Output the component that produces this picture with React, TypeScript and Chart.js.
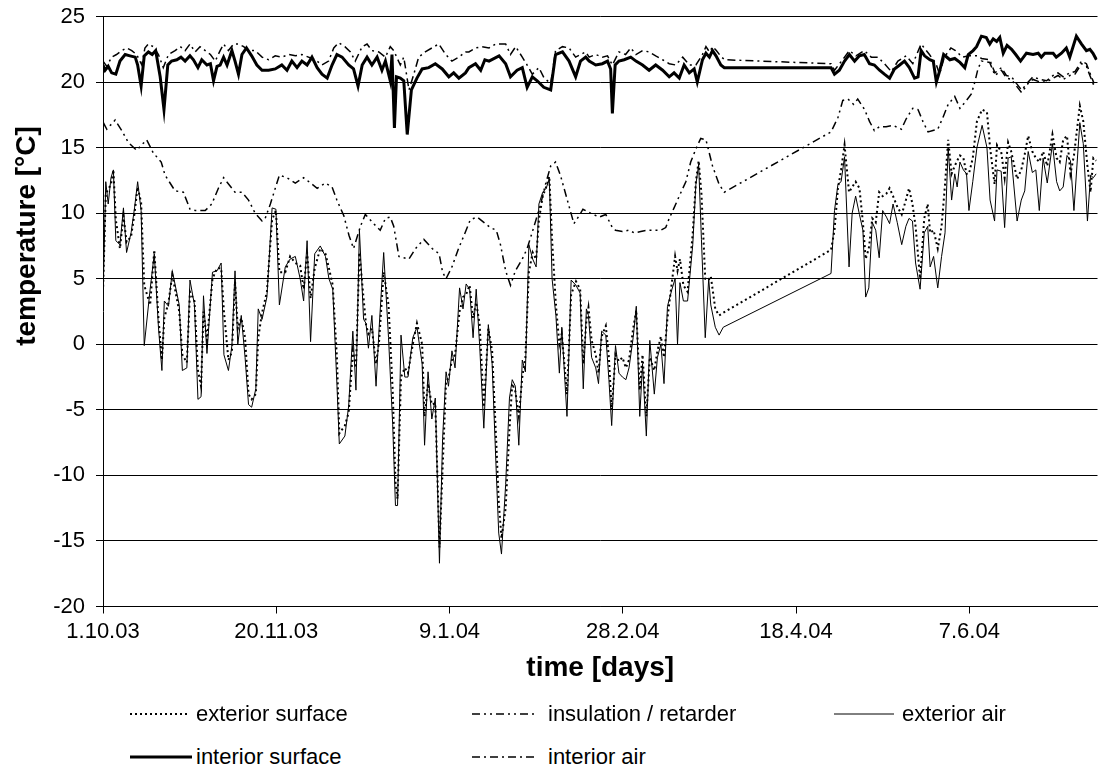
import React, { useEffect, useRef } from 'react';
import { Chart, registerables } from 'chart.js';

Chart.register(...registerables);

const FONT = "Arial, 'Liberation Sans', Helvetica, sans-serif";

// x tick labels (every 50 days from 1.10.03)
const xTickLabels = ['1.10.03', '20.11.03', '9.1.04', '28.2.04', '18.4.04', '7.6.04'];
const xTitle = 'time [days]';
const yTitle = 'temperature [°C]';

// exterior air / exterior surface (days since 1.10.03)
const exteriorDays = [
  0, 0.8, 1.5, 2.3, 3.0, 3.7, 4.9, 5.9, 6.8, 8.1,
  9.1, 10.0, 11.0, 11.9, 13.6, 14.8, 16.0, 17.0, 17.7, 18.9,
  20.0, 22.0, 22.9, 24.2, 25.1, 26.4, 27.4, 28.3, 29.0, 30.0,
  31.6, 32.9, 34.1, 34.9, 36.2, 37.2, 38.1, 38.9, 39.9, 41.0,
  42.0, 42.9, 44.1, 44.8, 45.9, 47.3, 48.8, 49.9, 50.9, 52.6,
  54.0, 55.5, 56.9, 57.9, 58.9, 59.9, 61.1, 62.7, 64.2, 65.2,
  66.3, 67.5, 68.2, 69.8, 70.9, 72.1, 73.0, 74.0, 75.2, 75.9,
  76.6, 77.6, 78.8, 79.7, 81.0, 82.4, 83.6, 84.4, 85.0, 86.0,
  87.1, 88.0, 89.4, 90.6, 92.1, 92.8, 93.8, 94.9, 95.9, 97.1,
  98.0, 99.0, 99.7, 100.7, 101.6, 102.9, 103.9, 104.8, 105.8, 106.8,
  107.7, 108.7, 109.9, 111.2, 112.3, 113.5, 114.2, 115.0, 116.2, 117.3,
  118.1, 119.0, 120.0, 121.0, 121.9, 122.9, 124.0, 125.0, 125.8, 126.9,
  127.9, 128.8, 129.6, 130.7, 131.7, 132.4, 133.9, 135.1, 136.5, 137.7,
  138.6, 139.5, 140.1, 141.0, 142.2, 143.0, 143.9, 145.1, 146.0, 146.8,
  147.9, 148.9, 149.9, 150.9, 151.8, 153.0, 153.9, 154.9, 155.7, 156.8,
  157.8, 159.1, 160.0, 161.0, 161.9, 162.9, 164.2, 165.1, 165.8, 166.5,
  167.5, 168.7, 170.2, 171.1, 171.9, 172.7, 173.8, 174.8, 175.4, 176.7,
  177.8, 179.0, 210.1, 211.1, 212.1, 213.0, 214.0, 215.3, 216.2, 217.2,
  218.3, 219.3, 220.1, 221.0, 222.0, 223.0, 224.0, 225.0, 226.1, 227.0,
  228.0, 229.2, 230.5, 231.7, 232.6, 233.6, 234.5, 235.8, 237.0, 238.0,
  238.7, 239.7, 240.9, 242.0, 243.0, 243.9, 244.9, 245.8, 246.5, 247.3,
  248.3, 249.2, 249.9, 251.0, 252.2, 253.7, 255.1, 256.0, 257.3, 258.0,
  259.2, 260.2, 261.2, 262.1, 263.8, 265.0, 266.0, 267.0, 268.2, 269.2,
  270.2, 271.3, 272.5, 274.0, 275.2, 276.1, 277.1, 278.2, 279.2, 280.2,
  281.9, 282.9, 284.1, 285.0, 285.8, 286.6,
];

const exteriorAir = [
  3.5, 12.4, 10.7, 12.7, 13.3, 7.9, 7.6, 10.4, 7.0, 8.5,
  10.4, 12.4, 10.2, -0.1, 4.2, 6.9, 1.3, -2.0, 3.3, 2.9,
  5.6, 3.0, -2.0, -1.8, 4.9, 3.0, -4.2, -4.0, 3.7, -0.7,
  5.5, 5.6, 6.2, -0.8, -2.0, -0.1, 5.6, 0.0, 2.2, -1.0,
  -4.6, -4.8, -3.4, 2.7, 1.9, 3.6, 10.4, 10.3, 3.0, 5.9,
  6.5, 6.7, 5.0, 3.3, 7.9, 0.2, 6.9, 7.5, 6.7, 5.0,
  4.2, -3.0, -7.6, -7.0, -4.7, 1.0, -3.5, 8.7, 1.9, 1.6,
  -0.3, 2.2, -3.2, 1.3, 7.0, 0.5, -6.1, -12.3, -12.3, 0.7,
  -2.5, -2.5, 0.5, 1.3, -1.5, -7.7, -2.1, -5.7, -4.1, -16.7,
  -7.2, -2.1, -3.2, -0.5, -1.8, 4.3, 2.7, 4.6, 4.2, 0.5,
  4.2, -0.1, -6.4, 1.5, -1.5, -9.8, -14.4, -16.0, -10.7, -4.1,
  -2.7, -3.2, -7.7, -1.2, -2.1, 7.6, 6.5, 5.9, 10.7, 11.6,
  11.9, 12.6, 5.0, 2.2, -2.2, 1.3, -5.5, 4.9, 4.5, 3.9,
  -3.4, 2.7, 2.2, -1.0, -1.8, -3.0, 1.0, 0.7, -2.7, -6.2,
  -0.1, -2.2, -2.5, -2.7, -1.8, 0.5, 2.9, -5.5, -1.5, -7.0,
  0.3, -3.8, -1.0, 0.0, -3.0, 2.9, 4.2, 5.0, 0.0, 4.7,
  3.3, 3.3, 7.6, 12.2, 13.7, 8.0, 0.5, 5.0, 3.0, 1.3,
  0.7, 1.3, 5.4, 10.2, 12.2, 12.4, 14.3, 5.9, 10.0, 11.3,
  9.9, 8.7, 3.6, 4.3, 9.3, 8.7, 6.6, 10.2, 9.7, 9.2,
  10.7, 9.3, 7.6, 9.0, 9.6, 9.4, 6.2, 4.2, 8.5, 9.0,
  5.9, 6.7, 4.3, 6.7, 8.5, 15.0, 11.0, 13.0, 12.0, 13.9,
  13.3, 13.0, 10.2, 12.4, 15.0, 16.7, 15.0, 11.0, 9.4, 13.3,
  13.2, 8.9, 14.2, 14.3, 9.4, 11.0, 11.7, 14.7, 13.1, 13.3,
  10.2, 14.2, 12.3, 15.3, 12.4, 11.7, 12.0, 14.4, 14.0, 10.2,
  16.9, 15.3, 9.4, 12.9, 12.7, 13.0,
];

const exteriorSurface = [
  4.0, 11.5, 11.8, 12.2, 13.3, 9.5, 7.3, 9.8, 7.8, 8.2,
  10.0, 12.0, 10.8, 4.5, 3.0, 7.2, 2.0, -1.2, 2.0, 3.2,
  5.3, 2.5, -0.8, -1.4, 4.0, 3.3, -2.0, -3.2, 2.5, 0.3,
  5.0, 5.8, 5.8, 2.5, -1.2, -0.6, 4.8, 1.2, 2.0, 0.5,
  -3.8, -4.2, -3.8, 0.5, 2.4, 4.0, 9.5, 10.2, 5.5, 5.5,
  6.7, 6.2, 6.0, 4.2, 7.0, 3.5, 5.8, 7.3, 6.9, 5.8,
  4.5, -1.0, -6.8, -6.2, -5.2, -0.5, -1.8, 7.0, 3.5, 1.5,
  0.8, 1.2, -1.5, 0.3, 5.5, 3.0, -3.5, -10.5, -11.8, -2.5,
  -1.8, -2.2, 0.0, 1.6, 0.0, -5.5, -3.0, -4.6, -4.5, -15.5,
  -9.5, -2.8, -2.6, -1.2, -0.8, 2.5, 3.6, 3.8, 4.5, 2.0,
  3.2, 1.5, -4.8, 1.2, -0.5, -7.5, -12.0, -14.8, -12.5, -6.5,
  -3.0, -3.6, -5.5, -2.5, -1.0, 5.5, 7.0, 6.5, 9.5, 11.3,
  12.0, 12.8, 8.0, 3.0, 0.0, 0.8, -3.8, 3.8, 4.8, 4.2,
  -1.5, 1.8, 2.8, 0.3, -0.8, -2.2, 0.6, 1.4, -1.0, -5.0,
  -0.8, -1.3, -1.0, -1.8, -1.2, 1.2, 2.6, -3.5, -0.8, -5.5,
  -1.0, -2.0, -0.5, 0.6, -1.0, 2.0, 4.8, 6.7, 5.6, 6.5,
  4.5, 4.0, 8.5, 12.4, 14.0, 11.5, 5.0, 4.9, 5.2, 2.7,
  2.2, 2.4, 7.2, 8.7, 11.9, 13.3, 15.2, 11.6, 12.0, 12.4,
  11.9, 9.3, 6.5, 7.3, 9.6, 9.3, 11.6, 11.3, 11.5, 11.9,
  11.3, 10.5, 9.9, 11.0, 11.9, 10.7, 9.0, 5.0, 9.6, 10.7,
  8.5, 8.7, 7.3, 9.0, 12.2, 15.6, 13.0, 13.6, 14.0, 14.4,
  14.2, 13.0, 13.0, 14.2, 17.0, 17.9, 17.7, 15.0, 12.2, 15.2,
  14.7, 12.7, 15.4, 14.7, 12.6, 13.3, 14.5, 15.9, 14.7, 14.2,
  13.9, 14.7, 13.6, 16.0, 14.2, 13.9, 15.6, 15.9, 13.0, 14.4,
  18.2, 17.0, 13.6, 11.6, 14.2, 14.0,
];

// insulation / retarder
const insulationDays = [
  0.1, 1.1, 3.5, 5.4, 7.3, 9.7, 12.6, 14.5, 16.8, 17.9,
  20.8, 23.2, 25.1, 26.6, 29.5, 31.4, 33.3, 34.8, 38.1, 40.1,
  42.0, 43.9, 45.9, 46.8, 48.3, 50.9, 53.1, 55.5, 57.9, 59.9,
  61.8, 64.2, 66.1, 67.5, 69.5, 71.0, 72.3, 74.3, 75.7, 78.1,
  80.0, 81.5, 82.9, 83.9, 85.4, 86.8, 88.3, 90.2, 92.6, 95.0,
  97.0, 98.0, 99.0, 100.7, 102.6, 104.5, 106.0, 108.0, 109.9, 111.8,
  113.5, 114.7, 116.2, 117.6, 119.0, 121.0, 122.4, 124.4, 126.3, 127.7,
  129.2, 130.6, 132.0, 134.0, 135.9, 137.4, 138.5, 140.7, 143.2, 145.1,
  147.0, 147.9, 149.9, 151.8, 153.3, 155.2, 157.1, 159.1, 161.0, 162.4,
  163.4, 164.8, 166.3, 168.2, 169.6, 171.1, 172.5, 174.0, 175.9, 177.8,
  179.3, 210.1, 212.1, 213.5, 215.0, 216.6, 217.8, 219.8, 221.2, 222.6,
  224.1, 226.0, 228.0, 230.4, 231.8, 233.7, 235.2, 236.6, 238.1, 239.5,
  240.9, 242.4, 243.9, 245.8, 247.3, 249.2, 250.6, 251.6, 252.5, 253.5,
  255.9, 257.4, 259.3, 260.7, 262.2, 263.6, 265.1, 267.0, 268.4, 270.4,
  272.3, 274.2, 275.6, 277.1, 279.0, 280.5, 282.4, 283.8, 284.8, 286.0,
];

const insulation = [
  16.9, 16.4, 17.1, 16.3, 15.4, 14.8, 15.6, 14.6, 13.9, 12.9,
  11.7, 11.6, 10.3, 10.2, 10.2, 10.7, 11.9, 12.7, 11.6, 11.6,
  11.0, 10.0, 9.4, 9.6, 10.7, 12.9, 12.7, 12.3, 12.7, 12.3,
  11.9, 12.3, 12.0, 11.0, 9.8, 8.3, 7.3, 9.0, 9.9, 9.2,
  8.7, 9.6, 9.7, 9.0, 6.7, 6.6, 6.5, 7.3, 8.0, 7.3,
  6.9, 5.5, 5.0, 5.9, 7.3, 8.5, 9.5, 9.7, 9.3, 8.9,
  8.7, 7.6, 5.6, 4.5, 5.6, 6.5, 7.3, 9.0, 10.7, 12.2,
  13.6, 13.9, 12.9, 11.0, 9.2, 9.8, 10.3, 10.0, 9.7, 9.9,
  8.9, 8.7, 8.6, 8.7, 8.5, 8.6, 8.7, 8.7, 8.7, 8.9,
  9.6, 10.4, 11.3, 12.4, 13.9, 14.9, 15.7, 15.6, 13.6, 12.2,
  11.6, 16.2, 17.3, 18.6, 18.7, 18.3, 18.7, 17.9, 17.0, 16.3,
  16.6, 16.6, 16.7, 16.4, 17.2, 18.0, 17.9, 17.0, 16.2, 16.3,
  16.4, 17.3, 18.3, 18.9, 18.0, 18.6, 19.1, 20.0, 21.0, 21.6,
  21.5, 20.5, 20.9, 20.3, 20.2, 19.7, 19.2, 19.9, 20.2, 20.0,
  20.0, 20.3, 20.5, 20.2, 20.5, 20.6, 21.4, 21.2, 20.5, 19.7,
];

// interior surface
const interiorSurfaceDays = [
  0, 0.6, 1.5, 2.5, 3.7, 4.9, 6.4, 7.8, 9.3, 10.0,
  11.0, 11.9, 13.1, 14.2, 15.2, 16.5, 17.6, 18.7, 19.8, 21.3,
  22.5, 23.7, 25.1, 26.1, 27.4, 28.5, 30.0, 31.0, 31.9, 32.9,
  33.8, 34.8, 35.8, 37.2, 38.1, 39.1, 40.1, 41.4, 42.9, 44.4,
  45.9, 47.8, 49.7, 51.6, 53.1, 54.5, 56.0, 57.4, 58.9, 60.3,
  61.8, 63.2, 64.7, 66.1, 67.5, 69.0, 70.9, 72.3, 73.6, 74.8,
  76.2, 77.6, 79.1, 80.5, 81.5, 82.9, 83.4, 84.1, 84.7, 85.8,
  86.8, 87.8, 89.0, 90.6, 92.1, 94.0, 95.9, 97.9, 99.8, 101.2,
  102.7, 104.6, 105.6, 107.5, 109.0, 110.2, 111.4, 114.3, 116.2, 117.6,
  119.5, 121.0, 122.4, 123.9, 125.3, 127.2, 129.2, 130.6, 132.6, 134.5,
  136.4, 137.8, 139.3, 140.3, 142.2, 144.1, 145.6, 146.5, 147.0, 147.8,
  148.9, 150.4, 152.3, 153.8, 155.7, 157.6, 159.5, 161.5, 163.4, 164.8,
  166.3, 167.7, 169.2, 170.6, 171.5, 173.0, 174.0, 175.0, 175.9, 176.9,
  178.3, 179.3, 210.1, 211.1, 212.5, 214.0, 215.4, 216.9, 218.3, 219.7,
  221.2, 222.6, 224.1, 225.5, 227.0, 228.4, 229.9, 231.3, 232.7, 234.2,
  235.2, 236.1, 237.1, 238.6, 239.6, 240.5, 241.5, 242.6, 244.4, 245.8,
  247.3, 248.7, 249.7, 251.1, 252.1, 253.5, 254.9, 255.9, 256.9, 257.9,
  258.8, 259.8, 260.9, 262.2, 263.4, 264.8, 266.5, 268.4, 269.9, 270.8,
  271.8, 274.2, 275.1, 276.6, 278.0, 279.0, 280.9, 282.4, 283.8, 284.8,
  285.7, 286.7,
];

const interiorSurface = [
  21.3, 20.9, 21.2, 20.7, 20.6, 21.6, 22.1, 22.0, 21.9, 21.3,
  19.7, 22.0, 22.3, 22.1, 22.4, 20.4, 17.9, 21.3, 21.6, 21.7,
  21.9, 21.6, 22.0, 21.7, 21.1, 21.7, 21.3, 21.4, 20.1, 21.2,
  21.3, 21.9, 21.3, 22.4, 21.6, 20.6, 22.1, 22.6, 22.0, 21.3,
  20.9, 20.9, 21.0, 21.3, 20.9, 21.6, 21.1, 21.6, 21.3, 21.9,
  21.1, 20.6, 20.3, 21.3, 22.1, 21.9, 21.3, 21.0, 19.7, 21.3,
  21.9, 21.3, 21.9, 20.9, 21.6, 20.1, 22.1, 16.5, 20.4, 20.3,
  20.1, 16.0, 19.4, 20.3, 21.0, 21.1, 21.4, 21.0, 20.4, 20.7,
  20.3, 20.7, 21.1, 21.4, 20.9, 21.7, 21.6, 22.0, 21.4, 20.4,
  20.9, 21.1, 19.6, 20.4, 20.1, 19.6, 19.4, 22.1, 22.3, 21.6,
  20.4, 21.6, 21.9, 21.6, 21.3, 21.4, 21.6, 21.0, 17.6, 21.3,
  21.6, 21.7, 21.9, 21.6, 21.3, 20.9, 21.3, 20.9, 20.4, 20.7,
  20.3, 21.3, 20.7, 21.0, 20.0, 21.7, 22.2, 21.9, 22.4, 22.0,
  21.3, 21.1, 21.1, 20.6, 20.9, 21.6, 22.1, 21.6, 22.0, 22.1,
  21.4, 21.3, 20.9, 20.6, 20.3, 21.0, 21.3, 21.6, 21.1, 20.3,
  20.4, 22.4, 22.0, 21.7, 21.6, 20.0, 20.9, 22.1, 21.7, 21.8,
  21.5, 21.1, 22.1, 22.4, 22.7, 23.5, 23.4, 22.9, 23.3, 23.1,
  23.4, 22.2, 22.8, 22.5, 22.1, 21.6, 22.2, 22.1, 22.2, 21.9,
  22.2, 22.2, 21.9, 22.2, 22.6, 21.9, 23.5, 22.9, 22.4, 22.5,
  22.2, 21.7,
];

// interior air
const interiorAirDays = [
  0, 1.1, 2.5, 3.9, 5.4, 6.8, 8.3, 9.7, 11.2, 12.1,
  13.1, 14.5, 16.0, 17.4, 18.9, 20.8, 22.3, 23.7, 25.1, 26.6,
  28.0, 29.5, 31.0, 32.4, 33.8, 34.8, 36.2, 37.7, 39.1, 40.6,
  42.0, 43.9, 45.9, 47.8, 49.7, 51.6, 53.6, 55.5, 57.4, 59.3,
  61.3, 63.2, 65.1, 66.6, 68.0, 69.8, 71.4, 72.8, 74.8, 76.2,
  77.6, 79.6, 81.5, 82.9, 83.9, 85.8, 86.8, 88.3, 89.7, 91.1,
  93.0, 94.9, 96.9, 98.9, 100.7, 102.7, 104.6, 105.6, 107.5, 109.4,
  111.4, 113.3, 116.2, 117.6, 119.1, 121.0, 122.4, 123.9, 125.8, 127.3,
  129.2, 130.6, 132.6, 134.5, 136.4, 139.3, 140.3, 142.2, 144.1, 145.6,
  147.0, 148.9, 150.8, 152.3, 153.8, 155.7, 157.6, 159.5, 161.5, 163.4,
  165.3, 167.3, 169.2, 171.1, 173.0, 174.0, 175.0, 176.0, 177.0, 178.5,
  179.5, 210.1, 211.1, 214.0, 215.4, 217.3, 219.7, 221.7, 223.6, 225.5,
  227.5, 229.4, 231.8, 233.7, 236.1, 238.5, 240.4, 241.4, 242.8, 244.7,
  246.0, 248.0, 250.0, 252.5, 253.5, 255.9, 257.4, 259.3, 260.7, 262.2,
  263.6, 265.1, 267.0, 268.4, 270.4, 272.3, 274.2, 275.6, 277.1, 279.0,
  280.5, 282.4, 283.8, 284.8, 286.0,
];

const interiorAir = [
  21.6, 21.2, 21.9, 22.1, 22.4, 22.6, 22.4, 22.1, 21.3, 22.6,
  22.9, 22.7, 22.1, 21.1, 22.1, 22.4, 22.7, 22.4, 22.9, 22.3,
  22.7, 22.4, 22.1, 21.6, 22.4, 22.9, 22.4, 22.9, 22.9, 22.7,
  22.4, 22.4, 21.9, 21.7, 22.0, 21.9, 22.1, 22.0, 22.1, 21.9,
  21.7, 21.3, 21.6, 22.6, 23.0, 22.7, 22.3, 21.6, 22.7, 22.9,
  22.4, 22.3, 21.9, 22.7, 22.4, 21.3, 21.9, 19.4, 20.6, 21.9,
  22.3, 22.6, 22.9, 22.1, 21.6, 21.9, 22.3, 22.3, 22.6, 22.7,
  22.6, 22.9, 22.9, 22.1, 22.7, 21.9, 21.3, 20.6, 21.1, 20.3,
  19.9, 22.4, 22.7, 22.6, 21.9, 22.3, 21.9, 22.1, 21.9, 22.0,
  21.3, 22.3, 22.1, 22.6, 22.1, 22.4, 22.3, 22.0, 21.7, 21.4,
  21.3, 21.9, 21.3, 21.3, 22.1, 22.7, 22.3, 22.7, 22.4, 21.9,
  21.7, 21.4, 20.9, 21.9, 22.4, 22.0, 22.4, 21.9, 21.9, 21.4,
  20.8, 21.6, 22.0, 21.4, 22.9, 22.1, 21.4, 20.6, 21.9, 22.6,
  22.4, 21.9, 22.0, 22.0, 21.8, 21.7, 20.7, 21.1, 20.5, 20.4,
  19.9, 19.4, 20.0, 20.4, 20.2, 20.1, 20.5, 20.7, 20.4, 20.7,
  20.8, 21.6, 21.4, 20.7, 19.9,
];

const toPoints = (xs: number[], ys: number[]) => xs.map((x, i) => ({ x, y: ys[i] }));

type LegendItem = { label: string; dash: string; width: number; row: number; col: number };

const legendItems: LegendItem[] = [
  { label: 'exterior surface', dash: '2 3', width: 2, row: 0, col: 0 },
  { label: 'insulation / retarder', dash: '8 4 2 4 2 4', width: 1.5, row: 0, col: 1 },
  { label: 'exterior air', dash: '', width: 1, row: 0, col: 2 },
  { label: 'interior surface', dash: '', width: 3, row: 1, col: 0 },
  { label: 'interior air', dash: '8 4 2 4', width: 1.5, row: 1, col: 1 },
];

const colSampleX = [122, 464, 826];
const colSampleW = [58, 62, 60];
const rowY = [706, 749];

// rotated y-axis title drawn slightly above the plot centre, as in the source chart
const yTitlePlugin = {
  id: 'yTitleText',
  afterDraw(chart: any) {
    const ctx = chart.ctx as CanvasRenderingContext2D;
    ctx.save();
    ctx.translate(19, 228);
    ctx.rotate(-Math.PI / 2);
    ctx.font = `bold 28px ${FONT}`;
    ctx.fillStyle = '#000';
    ctx.textAlign = 'center';
    ctx.textBaseline = 'middle';
    ctx.fillText(yTitle, 0, 0);
    ctx.restore();
  },
};

export default function App() {
  const canvasRef = useRef<HTMLCanvasElement | null>(null);

  useEffect(() => {
    const canvas = canvasRef.current;
    if (!canvas) return;
    const chart = new Chart(canvas, {
      type: 'line',
      data: {
        datasets: [
          {
            label: 'exterior surface',
            data: toPoints(exteriorDays, exteriorSurface),
            borderColor: '#000',
            borderWidth: 2,
            borderDash: [2, 3],
            pointRadius: 0,
          },
          {
            label: 'insulation / retarder',
            data: toPoints(insulationDays, insulation),
            borderColor: '#000',
            borderWidth: 1.5,
            borderDash: [8, 4, 2, 4, 2, 4],
            pointRadius: 0,
          },
          {
            label: 'exterior air',
            data: toPoints(exteriorDays, exteriorAir),
            borderColor: '#000',
            borderWidth: 1,
            pointRadius: 0,
          },
          {
            label: 'interior surface',
            data: toPoints(interiorSurfaceDays, interiorSurface),
            borderColor: '#000',
            borderWidth: 3,
            pointRadius: 0,
          },
          {
            label: 'interior air',
            data: toPoints(interiorAirDays, interiorAir),
            borderColor: '#000',
            borderWidth: 1.5,
            borderDash: [8, 4, 2, 4],
            pointRadius: 0,
          },
        ],
      },
      options: {
        animation: false,
        responsive: false,
        layout: { padding: { top: 8.5, left: 0, right: 2.5, bottom: 0 } },
        plugins: { legend: { display: false }, tooltip: { enabled: false } },
        elements: { line: { tension: 0 }, point: { radius: 0 } },
        scales: {
          x: {
            type: 'linear',
            min: 0,
            max: 287,
            ticks: {
              stepSize: 50,
              includeBounds: false,
              autoSkip: false,
              maxRotation: 0,
              color: '#000',
              padding: 5,
              font: { family: FONT, size: 22 },
              callback: (v: any) => {
                const idx = Math.round(Number(v) / 50);
                return Number(v) % 50 === 0 ? xTickLabels[idx] ?? '' : '';
              },
            },
            grid: { display: true, drawOnChartArea: false, drawTicks: true, tickLength: 7, color: '#000', lineWidth: 1 },
            border: { display: true, color: '#000', width: 1 },
            title: {
              display: true,
              text: xTitle,
              color: '#000',
              font: { family: FONT, size: 28, weight: 'bold' },
              padding: { top: 0, bottom: 23 },
            },
            afterFit: (s: any) => {
              s.height = 101.5;
              s.paddingLeft = 0;
              s.paddingRight = 0;
            },
          },
          y: {
            type: 'linear',
            min: -20,
            max: 25,
            ticks: {
              stepSize: 5,
              color: '#000',
              padding: 11,
              font: { family: FONT, size: 22 },
            },
            grid: { display: true, drawTicks: true, tickLength: 7, color: '#000', lineWidth: 1 },
            border: { display: true, color: '#000', width: 1 },
            title: { display: false, text: yTitle },
            afterFit: (s: any) => {
              s.width = 95;
              s.paddingTop = 0;
              s.paddingBottom = 0;
            },
          },
        },
      },
      plugins: [yTitlePlugin],
    } as any);
    return () => chart.destroy();
  }, []);

  return (
    <div style={{ position: 'relative', width: 1092, height: 760, fontFamily: FONT, color: '#000' }}>
      <canvas
        ref={canvasRef}
        width={1092}
        height={700}
        style={{ position: 'absolute', left: 0, top: 0, width: 1092, height: 700 }}
      />
      {legendItems.map((it) => {
        const x = colSampleX[it.col];
        const w = it.row === 1 && it.col === 0 ? 62 : colSampleW[it.col];
        const cy = rowY[it.row];
        const gap = it.row === 1 && it.col === 0 ? 4 : it.col === 1 ? 14 : 8;
        return (
          <React.Fragment key={it.label}>
            <svg
              width={w}
              height={10}
              style={{ position: 'absolute', left: x, top: cy - 5, overflow: 'visible' }}
            >
              <line
                x1={0}
                y1={5}
                x2={w}
                y2={5}
                stroke="#000"
                strokeWidth={it.width}
                strokeDasharray={it.dash || undefined}
              />
            </svg>
            <span
              style={{
                position: 'absolute',
                left: x + w + gap,
                top: cy - 13,
                fontSize: 22,
                lineHeight: '26px',
                whiteSpace: 'nowrap',
              }}
            >
              {it.label}
            </span>
          </React.Fragment>
        );
      })}
    </div>
  );
}
